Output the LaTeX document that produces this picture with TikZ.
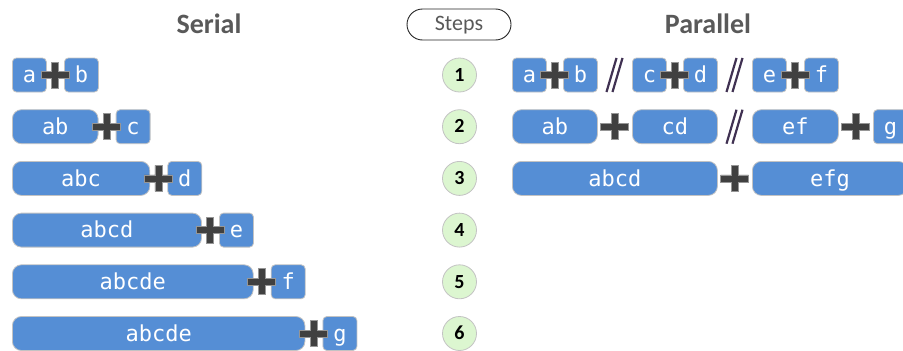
\documentclass[tikz,border=0pt]{standalone}
\usepackage{fontspec}
\setmainfont{Carlito}
\newfontfamily\monof{DejaVu Sans Mono}
\definecolor{boxblue}{RGB}{85,142,213}
\definecolor{boxedge}{RGB}{195,195,195}
\definecolor{plusfill}{RGB}{64,64,64}
\definecolor{plusedge}{RGB}{150,150,150}
\definecolor{stepfill}{RGB}{220,246,208}
\definecolor{titlegray}{RGB}{89,89,89}
\definecolor{sepcol}{RGB}{64,49,82}
\begin{document}
\begin{tikzpicture}[x=1pt,y=-1pt,
  blk/.style={draw=boxedge, line width=0.8pt, fill=boxblue, rounded corners=4pt,
    minimum height=34pt, inner sep=0pt, text=white, anchor=west,
    font=\monof\fontsize{22pt}{22pt}\selectfont, text height=15.5pt, text depth=0pt},
  wide/.style={blk, rounded corners=9pt},
  stepc/.style={circle, minimum size=34pt, inner sep=0pt, fill=stepfill, draw=boxedge,
    line width=0.8pt, font=\bfseries\fontsize{20pt}{20pt}\selectfont,
    text height=12.5pt, text depth=0pt},
  title/.style={anchor=base, text=titlegray, font=\bfseries\fontsize{28pt}{28pt}\selectfont},
  plussign/.pic={\draw[plusedge, fill=plusfill, line width=0.8pt]
    (-14,-3.5) -- (-3.5,-3.5) -- (-3.5,-13) -- (3.5,-13) -- (3.5,-3.5) -- (14,-3.5)
    -- (14,3.5) -- (3.5,3.5) -- (3.5,13) -- (-3.5,13) -- (-3.5,3.5) -- (-14,3.5) -- cycle;},
  parsep/.pic={\draw[sepcol, line width=2.2pt] (-8,17) -- (2,-17) (-2,17) -- (8,-17);}
]
\useasboundingbox (0,0) rectangle (903,351);

% titles
\node[title] (serial) at (209,33) {Serial};
\node[title] (parallel) at (708,33) {Parallel};
\node[draw=black!85, line width=0.9pt, rounded corners=15.5pt, minimum width=104pt,
  minimum height=31pt, inner sep=0pt, text=titlegray,
  font=\fontsize{22pt}{22pt}\selectfont, text height=12.5pt, text depth=0pt]
  (steps) at (459,24.5) {Steps};

% step circles
\node[stepc] (st1) at (459.5,75) {1};
\node[stepc] (st2) at (459.5,126.7) {2};
\node[stepc] (st3) at (459.5,178.4) {3};
\node[stepc] (st4) at (459.5,230.1) {4};
\node[stepc] (st5) at (459.5,281.8) {5};
\node[stepc] (st6) at (459.5,333.5) {6};

% serial
\node[blk, minimum width=34pt] (s1l) at (12,75) {a};
\node[blk, minimum width=34pt] (s1r) at (64,75) {b};
\pic (s1p) at (55,75) {plussign};

\node[wide, minimum width=85.7pt] (s2l) at (12,126.7) {ab};
\node[blk, minimum width=34pt] (s2r) at (115.7,126.7) {c};
\pic (s2p) at (106.7,126.7) {plussign};

\node[wide, minimum width=137.4pt] (s3l) at (12,178.4) {abc};
\node[blk, minimum width=34pt] (s3r) at (167.4,178.4) {d};
\pic (s3p) at (158.4,178.4) {plussign};

\node[wide, minimum width=189.1pt] (s4l) at (12,230.1) {abcd};
\node[blk, minimum width=34pt] (s4r) at (219.1,230.1) {e};
\pic (s4p) at (210.1,230.1) {plussign};

\node[wide, minimum width=240.8pt] (s5l) at (12,281.8) {abcde};
\node[blk, minimum width=34pt] (s5r) at (270.8,281.8) {f};
\pic (s5p) at (261.8,281.8) {plussign};

\node[wide, minimum width=292.5pt] (s6l) at (12,333.5) {abcde};
\node[blk, minimum width=34pt] (s6r) at (322.5,333.5) {g};
\pic (s6p) at (313.5,333.5) {plussign};

% parallel row 1
\node[blk, minimum width=34pt] (p1a) at (512,75) {a};
\node[blk, minimum width=34pt] (p1b) at (563,75) {b};
\pic (p1ab) at (554.5,75) {plussign};
\pic (p1s1) at (614.5,75) {parsep};
\node[blk, minimum width=34pt] (p1c) at (632,75) {c};
\node[blk, minimum width=34pt] (p1d) at (683,75) {d};
\pic (p1cd) at (674.5,75) {plussign};
\pic (p1s2) at (734.5,75) {parsep};
\node[blk, minimum width=34pt] (p1e) at (752,75) {e};
\node[blk, minimum width=34pt] (p1f) at (804,75) {f};
\pic (p1ef) at (795,75) {plussign};

% parallel row 2
\node[wide, minimum width=85pt] (p2ab) at (512,126.7) {ab};
\pic (p2p1) at (614.5,126.7) {plussign};
\node[wide, minimum width=85pt] (p2cd) at (632,126.7) {cd};
\pic (p2s) at (734.5,126.7) {parsep};
\node[wide, minimum width=86pt] (p2ef) at (752,126.7) {ef};
\pic (p2p2) at (855.5,126.7) {plussign};
\node[blk, minimum width=34pt] (p2g) at (873,126.7) {g};

% parallel row 3
\node[wide, minimum width=205pt] (p3abcd) at (512,178.4) {abcd};
\pic (p3p) at (734.5,178.4) {plussign};
\node[wide, minimum width=155pt] (p3efg) at (752,178.4) {efg};
\end{tikzpicture}
\end{document}
